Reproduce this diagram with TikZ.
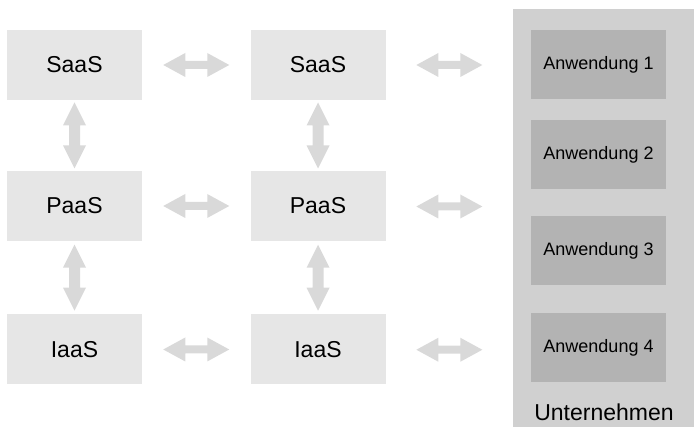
\documentclass[tikz,border=0pt]{standalone}
\usepackage{fontspec}
\setmainfont{Liberation Sans}
\usetikzlibrary{calc}
\definecolor{boxgray}{HTML}{E6E6E6}
\definecolor{arrgray}{HTML}{D9D9D9}
\definecolor{panelgray}{HTML}{D0D0D0}
\definecolor{appgray}{HTML}{B3B3B3}
\tikzset{
  svc/.style={fill=boxgray, draw=none, minimum width=135pt, minimum height=70pt, inner sep=0pt, font=\fontsize{23}{27}\selectfont},
  app/.style={fill=appgray, draw=none, minimum width=135pt, minimum height=69pt, inner sep=0pt, font=\fontsize{18}{22}\selectfont},
  harr/.pic={\fill[arrgray] (-33,0) -- (-11,-12) -- (-11,-4) -- (11,-4) -- (11,-12) -- (33,0) -- (11,12) -- (11,4) -- (-11,4) -- (-11,12) -- cycle;},
  varr/.pic={\fill[arrgray] (0,-33) -- (-11.5,-10) -- (-5.5,-10) -- (-5.5,10) -- (-11.5,10) -- (0,33) -- (11.5,10) -- (5.5,10) -- (5.5,-10) -- (11.5,-10) -- cycle;}
}
\begin{document}
\begin{tikzpicture}[x=1pt,y=-1pt]
\useasboundingbox (0,0) rectangle (694,427);
% panel
\fill[panelgray] (513,9) rectangle (694,427);
\coordinate (panelW) at (513,207);
\coordinate (panelW1) at (513,65);
\coordinate (panelW3) at (513,350);
% service boxes
\node[svc] (s1) at (74.5,65) {SaaS};
\node[svc] (s2) at (318,65) {SaaS};
\node[svc] (p1) at (74.5,206) {PaaS};
\node[svc] (p2) at (318,206) {PaaS};
\node[svc] (i1) at (74.5,349.5) {IaaS};
\node[svc] (i2) at (318,349.5) {IaaS};
% apps
\node[app] (a1) at (598.5,65) {Anwendung 1};
\node[app] (a2) at (598.5,155) {Anwendung 2};
\node[app] (a3) at (598.5,251) {Anwendung 3};
\node[app] (a4) at (598.5,347.5) {Anwendung 4};
\node[font=\fontsize{23}{27}\selectfont] (u) at (604,412) {Unternehmen};
% horizontal arrows
\pic at ($(s1.east)!0.5!(s2.west)$) {harr};
\pic at ($(p1.east)!0.5!(p2.west)$) {harr};
\pic at ($(i1.east)!0.5!(i2.west)$) {harr};
\pic at ($(s2.east)!0.5!(panelW1)$) {harr};
\pic at ($(p2.east)!0.5!(panelW)$) {harr};
\pic at ($(i2.east)!0.5!(panelW3)$) {harr};
% vertical arrows
\pic at ($(s1.south)!0.5!(p1.north)$) {varr};
\pic at ($(s2.south)!0.5!(p2.north)$) {varr};
\pic at ($(p1.south)!0.5!(i1.north)$) {varr};
\pic at ($(p2.south)!0.5!(i2.north)$) {varr};
\end{tikzpicture}
\end{document}
